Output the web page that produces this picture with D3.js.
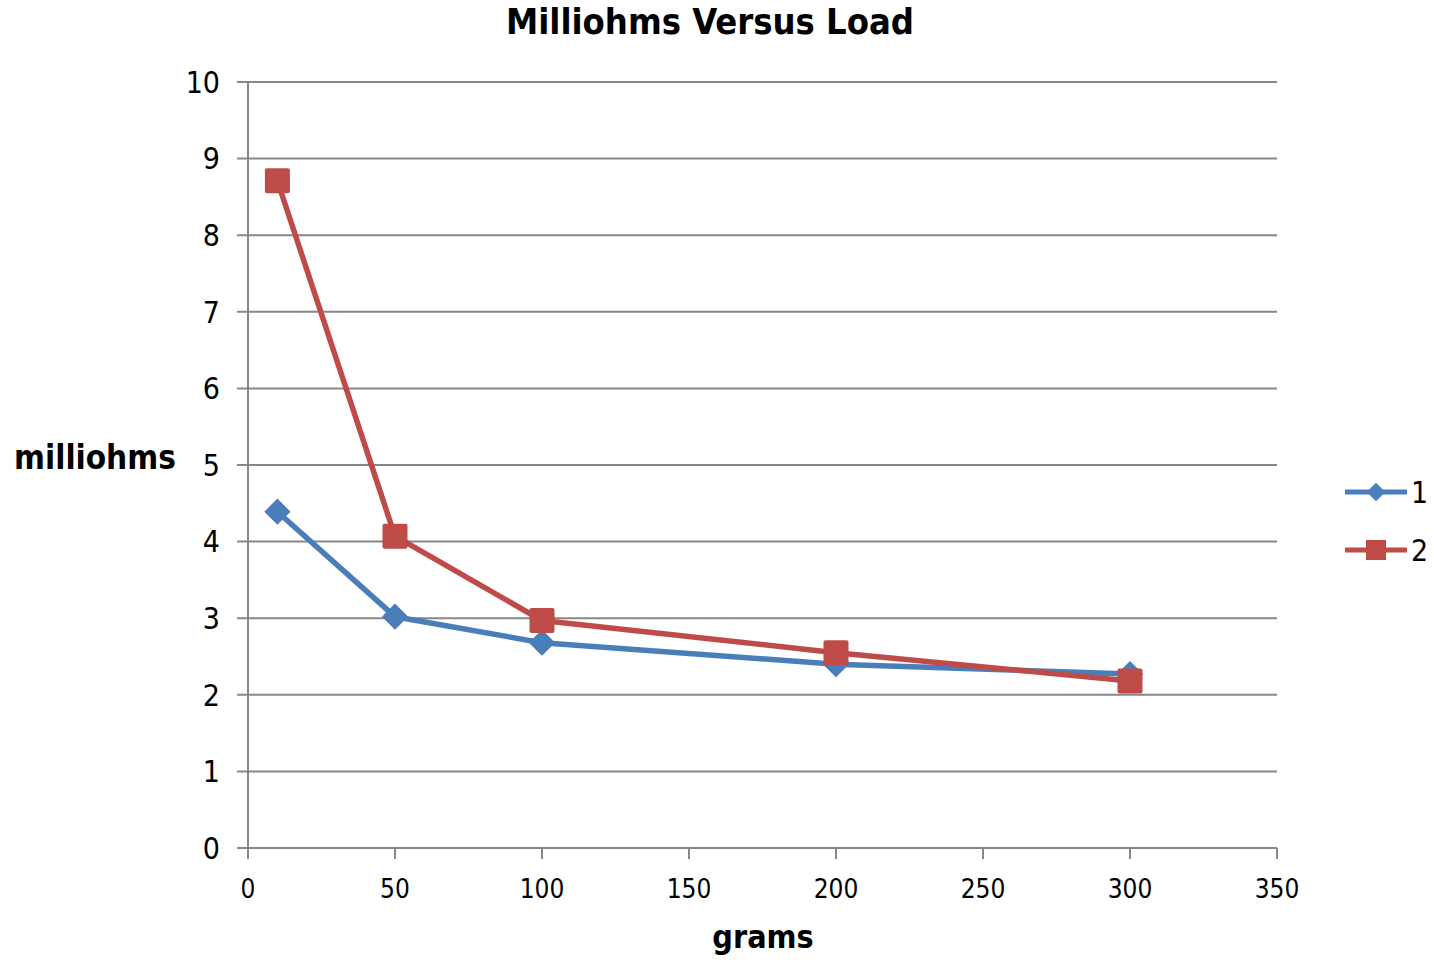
<!DOCTYPE html>
<html><head><meta charset="utf-8">
<script src="https://cdn.jsdelivr.net/npm/d3@7"></script>
<style>body{margin:0;background:#fff}</style>
</head><body>
<svg id="c" width="1434" height="960"></svg>
<script>
const xValues = [10, 50, 100, 200, 300];
const series1 = [4.39, 3.02, 2.68, 2.40, 2.27];
const series2 = [8.71, 4.07, 2.97, 2.55, 2.18];
const seriesNames = ["1", "2"];
const xTicks = [0, 50, 100, 150, 200, 250, 300, 350];
const yTicks = [0, 1, 2, 3, 4, 5, 6, 7, 8, 9, 10];

const svg = d3.select("#c");
const font = "'DejaVu Sans Condensed','DejaVu Sans',sans-serif";
const x = d3.scaleLinear().domain([0, 350]).range([248, 1277]);
const y = d3.scaleLinear().domain([0, 10]).range([848, 82]);
const grid = "#878787";

svg.append("g").selectAll("line").data(yTicks).join("line")
  .attr("x1", 237).attr("x2", 1277)
  .attr("y1", d => y(d)).attr("y2", d => y(d))
  .attr("stroke", grid).attr("stroke-width", 2);
svg.append("line").attr("x1", 248).attr("x2", 248).attr("y1", y(10)).attr("y2", y(0))
  .attr("stroke", grid).attr("stroke-width", 2);
svg.append("g").selectAll("line").data(xTicks).join("line")
  .attr("x1", d => x(d)).attr("x2", d => x(d))
  .attr("y1", y(0)).attr("y2", y(0) + 11)
  .attr("stroke", grid).attr("stroke-width", 2);

svg.append("g").selectAll("text").data(yTicks).join("text")
  .attr("x", 220).attr("y", d => y(d)).attr("dy", "0.36em")
  .attr("text-anchor", "end").attr("font-family", font).attr("font-size", 30)
  .text(d => d);
svg.append("g").selectAll("text").data(xTicks).join("text")
  .attr("x", d => x(d)).attr("y", 898)
  .attr("text-anchor", "middle").attr("font-family", font).attr("font-size", 26)
  .text(d => d);

svg.append("text").attr("x", 710).attr("y", 34).attr("text-anchor", "middle")
  .attr("font-family", font).attr("font-weight", "bold").attr("font-size", 36)
  .text("Milliohms Versus Load");
svg.append("text").attr("x", 95).attr("y", 469).attr("text-anchor", "middle")
  .attr("font-family", font).attr("font-weight", "bold").attr("font-size", 33)
  .text("milliohms");
svg.append("text").attr("x", 763).attr("y", 948).attr("text-anchor", "middle")
  .attr("font-family", font).attr("font-weight", "bold").attr("font-size", 32)
  .text("grams");

const colors = ["#4a7ebb", "#be4b48"];
const data = [series1, series2];
const line = d3.line().x((d, i) => x(xValues[i])).y(d => y(d));
const diamond = d3.symbol().type(d3.symbolDiamond2).size(440);

data.forEach((s, k) => {
  svg.append("path").datum(s).attr("d", line).attr("fill", "none")
    .attr("stroke", colors[k]).attr("stroke-width", 5.5).attr("stroke-linejoin", "round");
});
svg.append("g").selectAll("path").data(series1).join("path")
  .attr("transform", (d, i) => `translate(${x(xValues[i])},${y(d)})`)
  .attr("d", diamond).attr("fill", colors[0]);
svg.append("g").selectAll("rect").data(series2).join("rect")
  .attr("x", (d, i) => x(xValues[i]) - 12.5).attr("y", d => y(d) - 12.5)
  .attr("width", 25).attr("height", 25).attr("rx", 2).attr("fill", colors[1]);

const ly = [492, 550];
seriesNames.forEach((n, k) => {
  svg.append("line").attr("x1", 1345).attr("x2", 1407).attr("y1", ly[k]).attr("y2", ly[k])
    .attr("stroke", colors[k]).attr("stroke-width", 5);
  if (k === 0) {
    svg.append("path").attr("transform", `translate(1376,${ly[k]})`)
      .attr("d", d3.symbol().type(d3.symbolDiamond2).size(220)).attr("fill", colors[k]);
  } else {
    svg.append("rect").attr("x", 1366).attr("y", ly[k] - 10).attr("width", 20).attr("height", 20)
      .attr("fill", colors[k]);
  }
  svg.append("text").attr("x", 1411).attr("y", ly[k]).attr("dy", "0.36em")
    .attr("font-family", font).attr("font-size", 30).text(n);
});
</script>
</body></html>
